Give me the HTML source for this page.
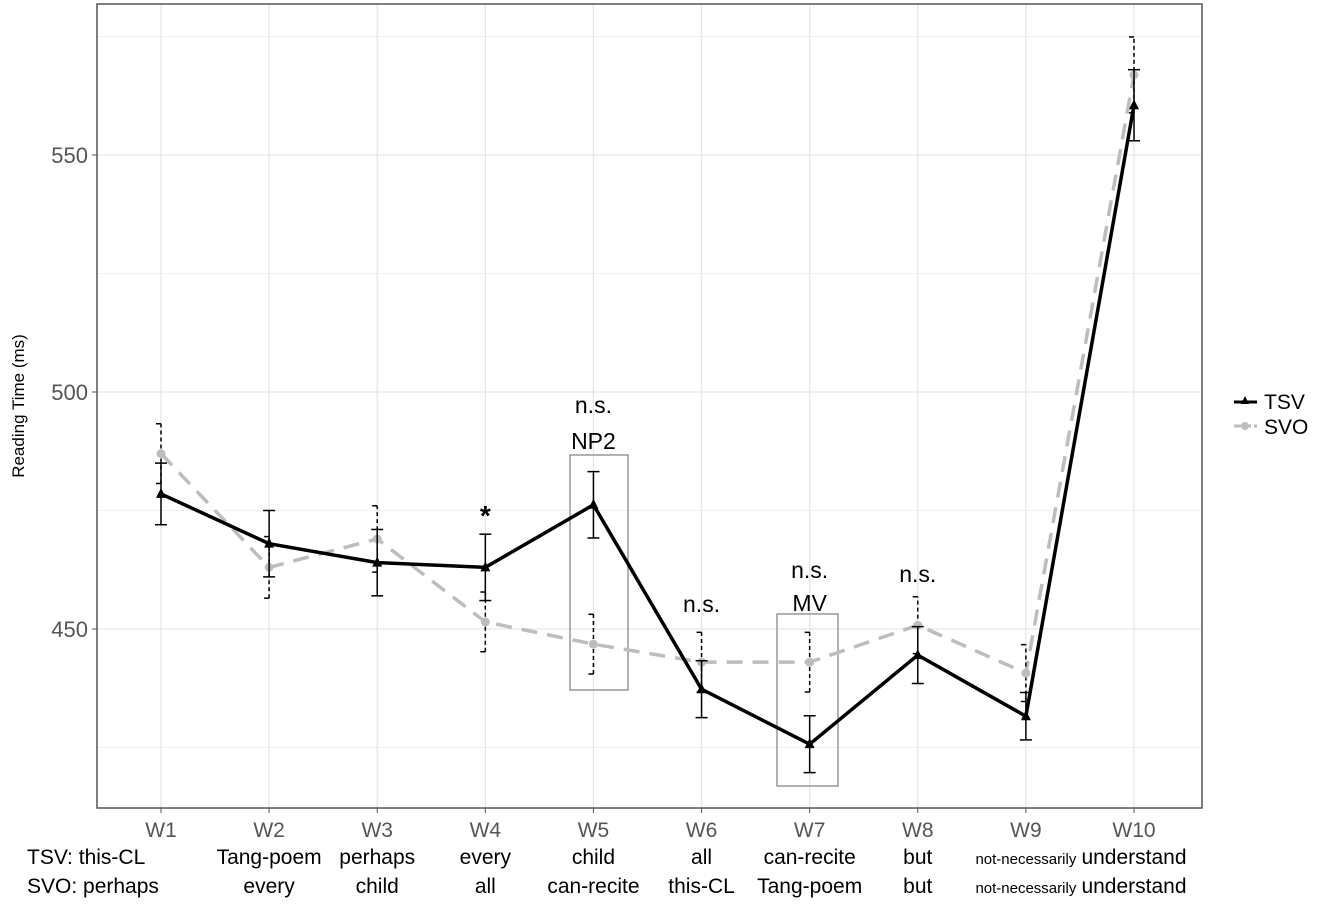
<!DOCTYPE html>
<html><head><meta charset="utf-8"><style>
body{margin:0;background:#fff;width:1328px;height:904px;overflow:hidden}
svg{font-family:"Liberation Sans",sans-serif}
</style></head><body>
<svg id="chart" width="1328" height="904"></svg>
<script>
const categories=["W1","W2","W3","W4","W5","W6","W7","W8","W9","W10"];
const tsvValues=[478.5,468,464,463,476.2,437.3,425.7,444.5,431.6,560.5];
const tsvErr=[6.5,7,7,7,7,6,6,6,5,7.5];
const svoValues=[487,463,469,451.5,446.8,443,443,450.8,440.7,566.9];
const svoErr=[6.3,6.5,7,6.3,6.3,6.3,6.3,6,6,8];
const yTicks=[450,500,550];
const yMinor=[425,475,525,575];
const tsvWords=["TSV: this-CL","Tang-poem","perhaps","every","child","all","can-recite","but","not-necessarily","understand"];
const svoWords=["SVO: perhaps","every","child","all","can-recite","this-CL","Tang-poem","but","not-necessarily","understand"];
const ns="http://www.w3.org/2000/svg";
const svg=document.getElementById('chart');
const L=97,R=1202,T=4,B=808;
const x=i=>161+i*(1134-161)/9;
const y=v=>629-(v-450)*4.74;
function el(t,a,p){const e=document.createElementNS(ns,t);for(const k in a)e.setAttribute(k,a[k]);(p||svg).appendChild(e);return e;}
function txt(s,a){const e=el('text',a);e.textContent=s;return e;}
yMinor.forEach(v=>{const g=el('line',{x1:L,x2:R,y1:y(v),y2:y(v),stroke:'#f0f0f0','stroke-width':1});

});
yTicks.forEach(v=>{const g=el('line',{x1:L,x2:R,y1:y(v),y2:y(v),stroke:'#e6e6e6','stroke-width':1.3});


const t=txt(v,{x:88,y:y(v)+8,'text-anchor':'end','font-size':22,fill:'#555'});


const tk=el('line',{x1:L-5,x2:L,y1:y(v),y2:y(v),stroke:'#555'});

});
categories.forEach((c,i)=>{const g=el('line',{x1:x(i),x2:x(i),y1:T,y2:B,stroke:'#e6e6e6','stroke-width':1.3});


const tk=el('line',{x1:x(i),x2:x(i),y1:B,y2:B+5,stroke:'#555'});


const t=txt(c,{x:x(i),y:837,'text-anchor':'middle','font-size':21,fill:'#555'});

});
const frame=el('rect',{x:L,y:T,width:R-L,height:B-T,fill:'none',stroke:'#555','stroke-width':1.5});


categories.forEach((c,i)=>{
 const small=tsvWords[i]==='not-necessarily';
 const first=i===0;
 const a=txt(tsvWords[i],{x:first?27:x(i),y:864,'text-anchor':first?'start':'middle','font-size':small?15:21,fill:'#000'});
 
 
 const b=txt(svoWords[i],{x:first?27:x(i),y:893,'text-anchor':first?'start':'middle','font-size':small?15:21,fill:'#000'});
 
 
});
const yt=txt('Reading Time (ms)',{x:0,y:0,transform:'translate(24,406) rotate(-90)','text-anchor':'middle','font-size':17,fill:'#000'});


const bx1=el('rect',{x:570,y:455,width:58,height:235,fill:'none',stroke:'#999','stroke-width':1.5});


const bx2=el('rect',{x:777,y:614,width:61,height:172,fill:'none',stroke:'#999','stroke-width':1.5});


const svoPts=svoValues.map((v,i)=>x(i)+','+y(v)).join(' ');
const sl=el('polyline',{points:svoPts,fill:'none',stroke:'#bdbdbd','stroke-width':3.5,'stroke-dasharray':'16,10'});


svoValues.forEach((v,i)=>{
 const g=el('g',{});
 
 
 el('line',{x1:x(i),x2:x(i),y1:y(v-svoErr[i]),y2:y(v+svoErr[i]),stroke:'#000','stroke-width':1.5,'stroke-dasharray':'4,3'},g);
 [v-svoErr[i],v+svoErr[i]].forEach(w=>el('line',{x1:x(i)-5,x2:x(i),y1:y(w),y2:y(w),stroke:'#000','stroke-width':1.5},g));
 const p=el('circle',{cx:x(i),cy:y(v),r:4.5,fill:'#bdbdbd'});
 
 
});
const tl=el('polyline',{points:tsvValues.map((v,i)=>x(i)+','+y(v)).join(' '),fill:'none',stroke:'#000','stroke-width':3.5});


tsvValues.forEach((v,i)=>{
 const g=el('g',{});
 
 
 el('line',{x1:x(i),x2:x(i),y1:y(v-tsvErr[i]),y2:y(v+tsvErr[i]),stroke:'#000','stroke-width':1.5},g);
 [v-tsvErr[i],v+tsvErr[i]].forEach(w=>el('line',{x1:x(i)-6,x2:x(i)+6,y1:y(w),y2:y(w),stroke:'#000','stroke-width':1.5},g));
 const cx=x(i),cy=y(v);
 const p=el('polygon',{points:`${cx},${cy-6} ${cx-5},${cy+4} ${cx+5},${cy+4}`,fill:'#000'});
 
 
});
[['*',x(3),525,28],['n.s.',x(4),413,23],['NP2',x(4),449,23],['n.s.',x(5),612,23],['n.s.',x(6),578,23],['MV',x(6),611,23],['n.s.',x(7),582,23]].forEach(a=>{
 const t=txt(a[0],{x:a[1],y:a[2],'text-anchor':'middle','font-size':a[3],fill:'#000','font-weight':a[0]==='*'?'bold':'normal'});
 
 
});
const lg=el('g',{});


el('line',{x1:1234,x2:1257,y1:402,y2:402,stroke:'#000','stroke-width':3},lg);
el('polygon',{points:'1245,396 1241,404 1249,404',fill:'#000'},lg);
const t1=el('text',{x:1264,y:409,'font-size':21,fill:'#000'},lg);t1.textContent='TSV';


el('line',{x1:1234,x2:1257,y1:426,y2:426,stroke:'#bdbdbd','stroke-width':3,'stroke-dasharray':'7,3'},lg);
el('circle',{cx:1245,cy:426,r:4,fill:'#bdbdbd'},lg);
const t2=el('text',{x:1264,y:434,'font-size':21,fill:'#000'},lg);t2.textContent='SVO';


</script>
</body></html>
